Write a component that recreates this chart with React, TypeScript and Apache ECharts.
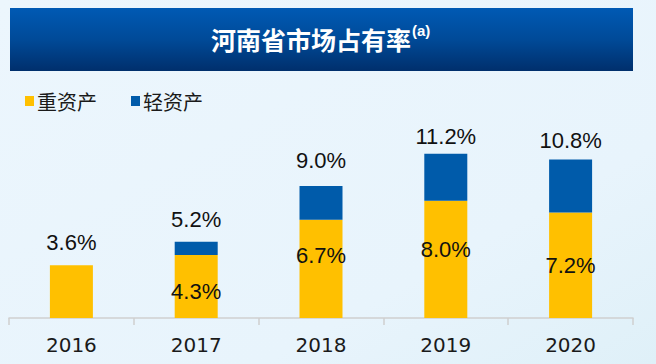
import React, { useEffect, useRef } from "react";
import * as echarts from "echarts";

const years = ["2016", "2017", "2018", "2019", "2020"];
const heavyAssets = [3.6, 4.3, 6.7, 8.0, 7.2];
const lightAssets = [0, 0.9, 2.3, 3.2, 3.6];
const totals = [3.6, 5.2, 9.0, 11.2, 10.8];
const titleMain = "河南省市场占有率";
const titleNote = "(a)";
const seriesNames = ["重资产", "轻资产"];

// per-bar vertical nudges of the in-bar labels (styling only)
const heavyLabelNudge = [0, 5, -13, -10, 0];
const totalLabelNudge = [-4, -3, -7, 2, 0];

export default function App() {
  const ref = useRef<HTMLDivElement>(null);
  useEffect(() => {
    if (!ref.current) return;
    const chart = echarts.init(ref.current, undefined, { renderer: "svg" });
    const numFont = "'Liberation Sans', Arial, sans-serif";
    chart.setOption({
      animation: false,
      backgroundColor: new echarts.graphic.LinearGradient(0, 0, 1, 1, [
        { offset: 0, color: "#ecf6fd" },
        { offset: 0.7, color: "#e8f4fc" },
        { offset: 1, color: "#dff0f8" },
      ]),
      graphic: [
        {
          type: "rect",
          shape: { x: 10, y: 8, width: 623, height: 63 },
          style: {
            fill: new echarts.graphic.LinearGradient(0, 0, 0, 1, [
              { offset: 0, color: "#005ab4" },
              { offset: 0.5, color: "#004a98" },
              { offset: 1, color: "#002f6c" },
            ]),
          },
          z: 0,
        },
      ],
      title: {
        text: `{a|${titleMain}}{b|${titleNote}}`,
        left: 211,
        top: 23,
        padding: 0,
        textStyle: {
          rich: {
            a: {
              fontFamily: "'Noto Sans CJK SC', sans-serif",
              fontSize: 25,
              fontWeight: "bold",
              color: "#ffffff",
              lineHeight: 32,
            },
            b: {
              fontFamily: numFont,
              fontSize: 15,
              fontWeight: "bold",
              color: "#ffffff",
              verticalAlign: "top",
              lineHeight: 32,
              padding: [0, 0, 12, 1],
            },
          },
        },
      },
      legend: {
        left: 20,
        top: 86,
        itemGap: 34,
        itemWidth: 9,
        itemHeight: 10,
        icon: "rect",
        data: seriesNames,
        textStyle: {
          fontFamily: "'Noto Sans CJK SC', sans-serif",
          fontSize: 20,
          color: "#1a1a1a",
          padding: [0, 0, 0, -2],
        },
      },
      grid: { left: 9, right: 23, top: 142, bottom: 46 },
      xAxis: {
        type: "category",
        data: years,
        axisLine: { lineStyle: { color: "#cfcfcf", width: 1.5 } },
        axisTick: { show: true, length: 7, lineStyle: { color: "#cfcfcf", width: 1.5 } },
        axisLabel: {
          margin: 17,
          fontFamily: "'DejaVu Sans', sans-serif",
          fontSize: 20,
          color: "#1a1a1a",
        },
      },
      yAxis: {
        type: "value",
        min: 0,
        max: 12,
        show: false,
        splitLine: { show: false },
      },
      series: [
        {
          name: seriesNames[0],
          type: "bar",
          stack: "s",
          barWidth: 43,
          data: heavyAssets.map((v, i) => ({
            value: v,
            label: { offset: [0, heavyLabelNudge[i]] },
          })),
          itemStyle: { color: "#FFC000" },
          label: {
            show: true,
            position: "inside",
            fontFamily: numFont,
            fontSize: 22,
            color: "#111111",
            formatter: (p: any) => (p.dataIndex === 0 ? "" : `${heavyAssets[p.dataIndex].toFixed(1)}%`),
          },
        },
        {
          name: seriesNames[1],
          type: "bar",
          stack: "s",
          barWidth: 43,
          data: lightAssets.map((v, i) => ({
            value: v,
            label: { offset: [0, totalLabelNudge[i]] },
          })),
          itemStyle: { color: "#005BAA" },
          label: {
            show: true,
            position: "top",
            distance: 8,
            fontFamily: numFont,
            fontSize: 22,
            color: "#111111",
            formatter: (p: any) => `${totals[p.dataIndex].toFixed(1)}%`,
          },
        },
      ],
    });
    return () => chart.dispose();
  }, []);
  return (
    <div
      ref={ref}
      style={{ position: "fixed", left: 0, top: 0, width: 656, height: 364 }}
    />
  );
}
